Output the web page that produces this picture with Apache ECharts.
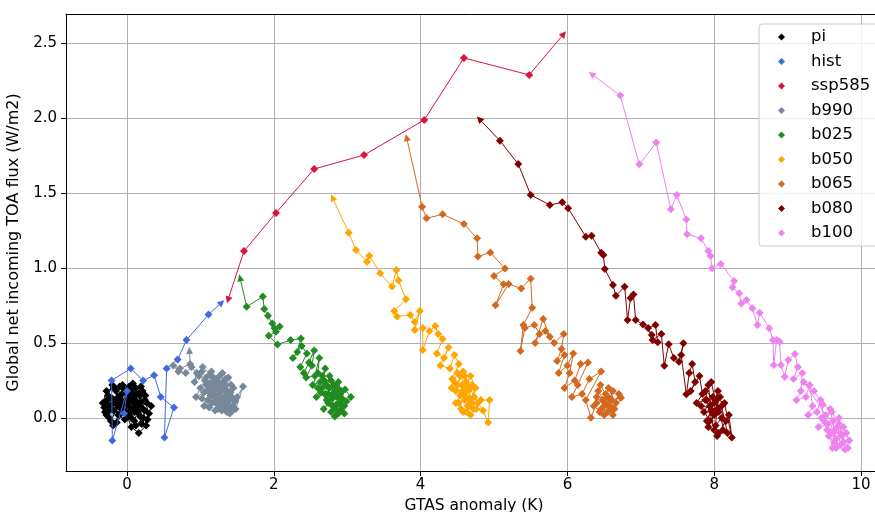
<!DOCTYPE html>
<html>
<head>
<meta charset="utf-8">
<script src="https://cdn.jsdelivr.net/npm/echarts@6/dist/echarts.min.js"></script>
<style>
  html, body { margin: 0; padding: 0; background: #fff; }
  #con { width: 875px; height: 512px; }
</style>
</head>
<body>
<div id="con"></div>
<script>
// trajectories, [GTAS anomaly, TOA flux]
var piData = [[-0.05,0.10],[-0.18,0.05],[-0.27,0.12],[-0.30,0.04],[-0.22,-0.02],[-0.12,0.08],[-0.15,0.18],[-0.06,0.22],[0.02,0.15],[-0.08,0.03],
  [-0.25,0.08],[-0.33,0.10],[-0.28,0.18],[-0.18,0.20],[-0.10,0.14],[0.05,0.05],[0.12,0.20],[0.18,0.10],[0.10,-0.02],[0.02,0.08],
  [-0.14,-0.03],[-0.24,0.00],[-0.31,0.07],[-0.20,0.13],[-0.04,0.19],[0.08,0.23],[0.15,0.16],[0.22,0.06],[0.26,-0.05],[0.16,-0.10],
  [0.06,-0.06],[-0.02,0.04],[0.04,0.12],[0.14,0.04],[0.24,0.12],[0.30,0.03],[0.20,-0.04],[0.10,0.10],[-0.07,0.16],[-0.16,0.10],
  [-0.26,0.15],[-0.20,0.22],[-0.10,0.21],[0.00,0.18],[0.09,0.13],[0.19,0.21],[0.25,0.15],[0.33,0.08],[0.28,-0.01],[0.18,0.01],
  [0.08,0.06],[-0.03,-0.01],[-0.12,0.02],[-0.21,0.09],[-0.09,0.12],[0.03,0.21],[0.13,0.11],[0.22,0.00],[0.12,-0.05],[0.02,0.02],
  [-0.10,0.07],[-0.28,0.02],[-0.19,-0.05],[-0.06,0.06],[0.07,0.17],[0.17,0.07],[0.27,0.10],[0.21,0.18],[0.11,0.15],[0.01,0.09],
  [-0.02,0.12],[0.06,0.00],[0.14,0.08],[0.04,0.19],[-0.13,0.13],[-0.24,0.05],[0.18,0.15],[0.24,0.05],[0.10,0.04],[-0.08,0.09]];
var histData = [[-0.04,0.03],[0.00,0.18],[-0.20,-0.15],[-0.21,0.25],[0.05,0.33],[0.22,0.25],[0.37,0.285],[0.46,0.14],[0.64,0.07],[0.51,-0.13],
  [0.54,0.33],[0.69,0.39],[0.81,0.52],[1.11,0.69],[1.29,0.77]];
var ssp585Data = [[1.376,0.787],[1.594,1.113],[2.03,1.367],[2.55,1.66],[3.23,1.753],[4.05,1.987],[4.59,2.40],[5.48,2.287],[5.95,2.56]];
var b990Data = [[0.85,0.45],[0.86,0.36],[0.72,0.33],[0.63,0.35],[0.70,0.31],[0.80,0.30],[0.88,0.34],[0.95,0.30],[0.92,0.24],[1.02,0.31],
  [1.08,0.27],[1.00,0.20],[0.94,0.14],[1.05,0.17],[1.12,0.23],[1.15,0.31],[1.22,0.26],[1.18,0.18],[1.10,0.12],[1.05,0.08],
  [1.16,0.10],[1.25,0.16],[1.30,0.24],[1.35,0.19],[1.28,0.12],[1.20,0.05],[1.32,0.07],[1.40,0.12],[1.45,0.20],[1.38,0.27],
  [1.30,0.30],[1.22,0.21],[1.14,0.15],[1.24,0.09],[1.36,0.04],[1.44,0.08],[1.50,0.14],[1.58,0.21],[1.48,0.06],[1.40,0.03],
  [1.33,0.10],[1.26,0.20],[1.18,0.27],[1.08,0.22],[1.02,0.13],[1.12,0.07],[1.20,0.13],[1.28,0.18],[1.37,0.15],[1.42,0.22],
  [1.34,0.26],[1.26,0.28],[1.15,0.20],[1.06,0.25],[0.98,0.28],[1.03,0.34],[1.13,0.29],[1.20,0.22],[1.31,0.13],[1.41,0.17],
  [1.47,0.11],[1.39,0.06],[1.29,0.05],[1.21,0.10],[1.25,0.23],[1.35,0.22],[1.43,0.14],
  [1.18,0.16],[1.26,0.12],[1.34,0.18],[1.30,0.08],[1.22,0.14],[1.36,0.11],[1.44,0.05],[1.32,0.22],[1.16,0.24],[1.10,0.18],
  [1.24,0.06],[1.38,0.09]];
var b025Data = [[1.54,0.935],[1.63,0.742],[1.85,0.81],[1.87,0.727],[1.92,0.682],[1.98,0.63],[2.01,0.598],[2.08,0.61],[2.03,0.575],[1.93,0.549],
  [2.05,0.49],[2.23,0.52],[2.37,0.53],[2.32,0.44],[2.26,0.40],[2.38,0.48],[2.45,0.43],[2.36,0.34],[2.41,0.30],[2.48,0.37],
  [2.55,0.45],[2.52,0.35],[2.44,0.27],[2.56,0.28],[2.62,0.40],[2.60,0.30],[2.53,0.22],[2.63,0.24],[2.70,0.33],[2.66,0.20],
  [2.58,0.14],[2.70,0.16],[2.76,0.28],[2.82,0.22],[2.74,0.10],[2.68,0.06],[2.80,0.13],[2.88,0.24],[2.92,0.18],[2.85,0.09],
  [2.78,0.04],[2.83,0.01],[2.90,0.10],[2.97,0.19],[3.05,0.14],[2.96,0.08],[2.88,0.03],[2.93,0.13],[2.84,0.18],[2.76,0.20],
  [2.69,0.25],[2.64,0.17],[2.72,0.12],[2.81,0.16],[2.99,0.11],[2.91,0.05],
  [2.86,0.14],[2.94,0.08],[2.80,0.08],[2.74,0.16],[2.86,0.20],[2.78,0.25],[2.90,0.16],[2.96,0.03],[2.84,0.06],[2.72,0.22],
  [2.66,0.28],[2.60,0.20]];
var b050Data = [[2.80,1.469],[3.02,1.235],[3.12,1.12],[3.27,1.042],[3.30,1.082],[3.45,0.965],[3.61,0.876],[3.67,0.987],[3.70,0.916],[3.80,0.791],
  [3.64,0.713],[3.68,0.676],[3.86,0.687],[3.92,0.64],[3.99,0.713],[3.92,0.587],[4.03,0.60],[4.03,0.453],[4.12,0.58],[4.20,0.613],
  [4.24,0.56],[4.30,0.527],[4.22,0.43],[4.32,0.40],[4.38,0.47],[4.27,0.35],[4.40,0.33],[4.46,0.42],[4.52,0.36],[4.43,0.26],
  [4.50,0.22],[4.58,0.31],[4.62,0.24],[4.54,0.15],[4.48,0.10],[4.60,0.12],[4.66,0.19],[4.70,0.10],[4.63,0.04],[4.55,0.06],
  [4.68,0.02],[4.76,0.06],[4.82,0.12],[4.94,0.12],[4.92,-0.03],[4.85,0.05],[4.73,0.14],[4.60,0.28],[4.50,0.30],[4.42,0.20],
  [4.57,0.18],[4.68,0.28],[4.75,0.20],[4.64,0.08],
  [4.46,0.24],[4.56,0.22],[4.62,0.14],[4.52,0.10],[4.58,0.04],[4.66,0.12],[4.72,0.06],[4.64,0.20],[4.54,0.28],[4.48,0.18],
  [4.60,0.16],[4.70,0.22],[4.78,0.10],[4.68,0.08]];
var b065Data = [[3.81,1.869],[4.02,1.409],[4.08,1.331],[4.30,1.358],[4.59,1.293],[4.77,1.198],[4.78,1.076],[4.95,1.104],[5.15,0.996],[5.00,0.947],
  [5.13,0.891],[5.02,0.751],[5.20,0.893],[5.37,0.864],[5.50,0.929],[5.52,0.735],[5.40,0.62],[5.36,0.447],[5.42,0.60],[5.55,0.62],
  [5.62,0.56],[5.56,0.50],[5.67,0.66],[5.76,0.542],[5.70,0.58],[5.82,0.50],[5.95,0.56],[5.92,0.46],[5.86,0.38],[5.96,0.42],
  [5.88,0.30],[6.00,0.35],[6.08,0.43],[6.03,0.30],[5.96,0.20],[6.10,0.25],[6.18,0.36],[6.28,0.37],[6.14,0.22],[6.06,0.14],
  [6.20,0.16],[6.30,0.26],[6.46,0.31],[6.25,0.12],[6.32,0.002],[6.40,0.10],[6.45,0.22],[6.52,0.16],[6.46,0.06],[6.55,0.04],
  [6.60,0.12],[6.73,0.135],[6.64,0.06],[6.52,0.10],[6.42,0.18],[6.36,0.08],[6.50,0.02],[6.62,0.18],
  [6.48,0.12],[6.58,0.08],[6.62,0.02],[6.54,0.14],[6.44,0.04],[6.56,0.20],[6.66,0.10],[6.70,0.16],[6.60,0.06],[6.50,0.08],
  [6.40,0.14],[6.58,0.13]];
var b080Data = [[4.80,1.993],[5.08,1.849],[5.33,1.693],[5.50,1.487],[5.76,1.42],[5.93,1.438],[6.01,1.398],[6.25,1.209],[6.33,1.215],[6.46,1.102],
  [6.49,1.087],[6.51,0.993],[6.62,0.887],[6.66,0.815],[6.78,0.875],[6.82,0.653],[6.86,0.80],[6.90,0.824],[6.93,0.653],[7.03,0.624],
  [7.15,0.553],[7.10,0.60],[7.20,0.62],[7.23,0.505],[7.16,0.52],[7.28,0.56],[7.32,0.349],[7.38,0.491],[7.45,0.40],[7.52,0.375],
  [7.58,0.498],[7.55,0.42],[7.62,0.158],[7.66,0.30],[7.70,0.36],[7.74,0.24],[7.68,0.18],[7.80,0.28],[7.84,0.16],[7.76,0.10],
  [7.88,0.12],[7.92,0.22],[7.96,0.05],[7.90,-0.02],[8.00,0.10],[8.05,0.18],[8.02,-0.05],[8.10,0.00],[8.12,-0.08],[8.04,-0.12],
  [8.20,0.02],[8.24,-0.13],[8.14,0.10],[7.98,0.14],[7.86,0.04],[8.06,0.04],
  [7.94,0.08],[8.08,0.14],[8.00,0.02],[7.92,-0.06],[8.06,-0.10],[8.16,-0.02],[8.02,0.12],[7.88,0.18],[7.96,0.24],[8.04,0.06],
  [7.82,0.08],[7.94,-0.02],[8.10,0.08],[8.18,-0.10],[8.00,-0.08],[7.90,0.12]];
var b100Data = [[6.33,2.293],[6.72,2.149],[6.98,1.691],[7.21,1.836],[7.41,1.391],[7.49,1.487],[7.62,1.324],[7.63,1.225],[7.82,1.198],[7.92,1.113],
  [7.95,1.08],[7.97,0.998],[8.09,1.027],[8.27,0.913],[8.25,0.871],[8.34,0.831],[8.37,0.764],[8.44,0.787],[8.52,0.731],[8.59,0.62],
  [8.62,0.702],[8.75,0.598],[8.80,0.52],[8.81,0.353],[8.85,0.52],[8.89,0.509],[8.91,0.353],[8.96,0.275],[9.01,0.387],[9.10,0.427],
  [9.14,0.34],[9.08,0.26],[9.20,0.30],[9.18,0.18],[9.12,0.12],[9.25,0.14],[9.30,0.22],[9.34,0.08],[9.28,0.02],[9.40,0.04],
  [9.45,0.12],[9.50,-0.02],[9.42,-0.06],[9.55,-0.04],[9.61,-0.20],[9.64,-0.08],[9.70,0.00],[9.74,-0.12],[9.78,-0.21],[9.84,-0.15],
  [9.76,-0.06],[9.66,-0.14],[9.58,0.06],[9.48,0.09],[9.36,0.18],[9.22,0.24],
  [9.52,0.02],[9.62,-0.02],[9.56,-0.12],[9.68,-0.06],[9.72,-0.18],[9.64,-0.16],[9.80,-0.10],[9.70,-0.04],[9.60,0.04],[9.46,0.00],
  [9.54,-0.08],[9.66,-0.20],[9.76,-0.16],[9.82,-0.20],[9.72,-0.10],[9.62,-0.10]];

var names = ['pi', 'hist', 'ssp585', 'b990', 'b025', 'b050', 'b065', 'b080', 'b100'];
var allData = [piData, histData, ssp585Data, b990Data, b025Data, b050Data, b065Data, b080Data, b100Data];
var colors = ['#000000', '#4169e1', '#dc143c', '#778899', '#228b22', '#ffa500', '#d2691e', '#800000', '#ee82ee'];
// where the arrow heads sit: 's' = first point, 'e' = last point
var arrows = ['', 'e', 'se', 's', 's', 's', 's', 's', 's'];
var xTicks = [0, 2, 4, 6, 8, 10];
var yTicks = [0, 0.5, 1.0, 1.5, 2.0, 2.5];

var font = 'DejaVu Sans';
var pxX = 73.4, pxY = 150; // pixels per unit, used only to turn arrow heads

var arrowItem = function(p, q) {
    // triangle at p pointing away from q
    var ang = Math.atan2((p[1] - q[1]) * pxY, (p[0] - q[0]) * pxX) * 180 / Math.PI;
    return {value: p, symbol: 'triangle', symbolSize: 7, symbolRotate: ang - 90};
};

var series = [];
for (var i = 0; i < names.length; i++) {
    var d = allData[i];
    var items = d.map(function(p) { return {value: p}; });
    if (arrows[i].indexOf('s') >= 0) items[0] = arrowItem(d[0], d[1]);
    if (arrows[i].indexOf('e') >= 0) items[d.length - 1] = arrowItem(d[d.length - 1], d[d.length - 2]);
    series.push({
        name: names[i],
        type: 'line',
        data: items,
        symbol: 'diamond',
        symbolSize: 8,
        showAllSymbol: true,
        color: colors[i],
        lineStyle: {width: 1, color: colors[i]},
        itemStyle: {color: colors[i]},
        emphasis: {disabled: true},
        z: 2 + i
    });
}

var xMin = -0.831, xMax = 10.286;
var myChart = echarts.init(document.getElementById('con'));
var option = {
    animation: false,
    backgroundColor: '#fff',
    grid: {left: 66, top: 14, right: -7, bottom: 41, outerBoundsMode: 'none', containLabel: false},
    legend: {
        data: names.map(function(n) { return {name: n, icon: 'diamond'}; }),
        orient: 'vertical',
        left: 759,
        top: 24,
        itemWidth: 7,
        itemHeight: 7,
        itemGap: 4.5,
        padding: [3, 30, 3, 19],
        backgroundColor: 'rgba(255,255,255,0.8)',
        borderColor: '#cccccc',
        borderWidth: 1,
        borderRadius: 3,
        textStyle: {fontFamily: font, fontSize: 16.5, color: '#000', lineHeight: 20, padding: [0, 0, 0, 21]},
        z: 20
    },
    xAxis: [{
        type: 'value',
        min: xMin,
        max: xMax,
        name: 'GTAS anomaly (K)',
        nameLocation: 'middle',
        nameGap: 26,
        nameTextStyle: {fontFamily: font, fontSize: 15.5, color: '#000'},
        axisLine: {show: true, onZero: false, lineStyle: {color: '#000', width: 1}},
        axisTick: {show: true, inside: false, length: 5, lineStyle: {color: '#000'}, customValues: xTicks},
        axisLabel: {fontFamily: font, fontSize: 15, color: '#000', margin: 7, customValues: xTicks},
        splitLine: {show: true, lineStyle: {color: '#b0b0b0', width: 1}}
    }, {
        // top spine only
        type: 'value',
        position: 'top',
        min: xMin,
        max: xMax,
        axisLine: {show: true, onZero: false, lineStyle: {color: '#000', width: 1}},
        axisTick: {show: false},
        axisLabel: {show: false},
        splitLine: {show: false}
    }],
    yAxis: {
        type: 'value',
        min: -0.353,
        max: 2.693,
        name: 'Global net incoming TOA flux (W/m2)',
        nameLocation: 'middle',
        nameGap: 38,
        nameTextStyle: {fontFamily: font, fontSize: 16, color: '#000'},
        axisLine: {show: true, onZero: false, lineStyle: {color: '#000', width: 1}},
        axisTick: {show: true, inside: false, length: 5, lineStyle: {color: '#000'}, customValues: yTicks},
        axisLabel: {fontFamily: font, fontSize: 15, color: '#000', margin: 9, customValues: yTicks,
            formatter: function(v) { return v.toFixed(1); }},
        splitLine: {show: true, lineStyle: {color: '#b0b0b0', width: 1}}
    },
    series: series
};
myChart.setOption(option);
</script>
</body>
</html>
